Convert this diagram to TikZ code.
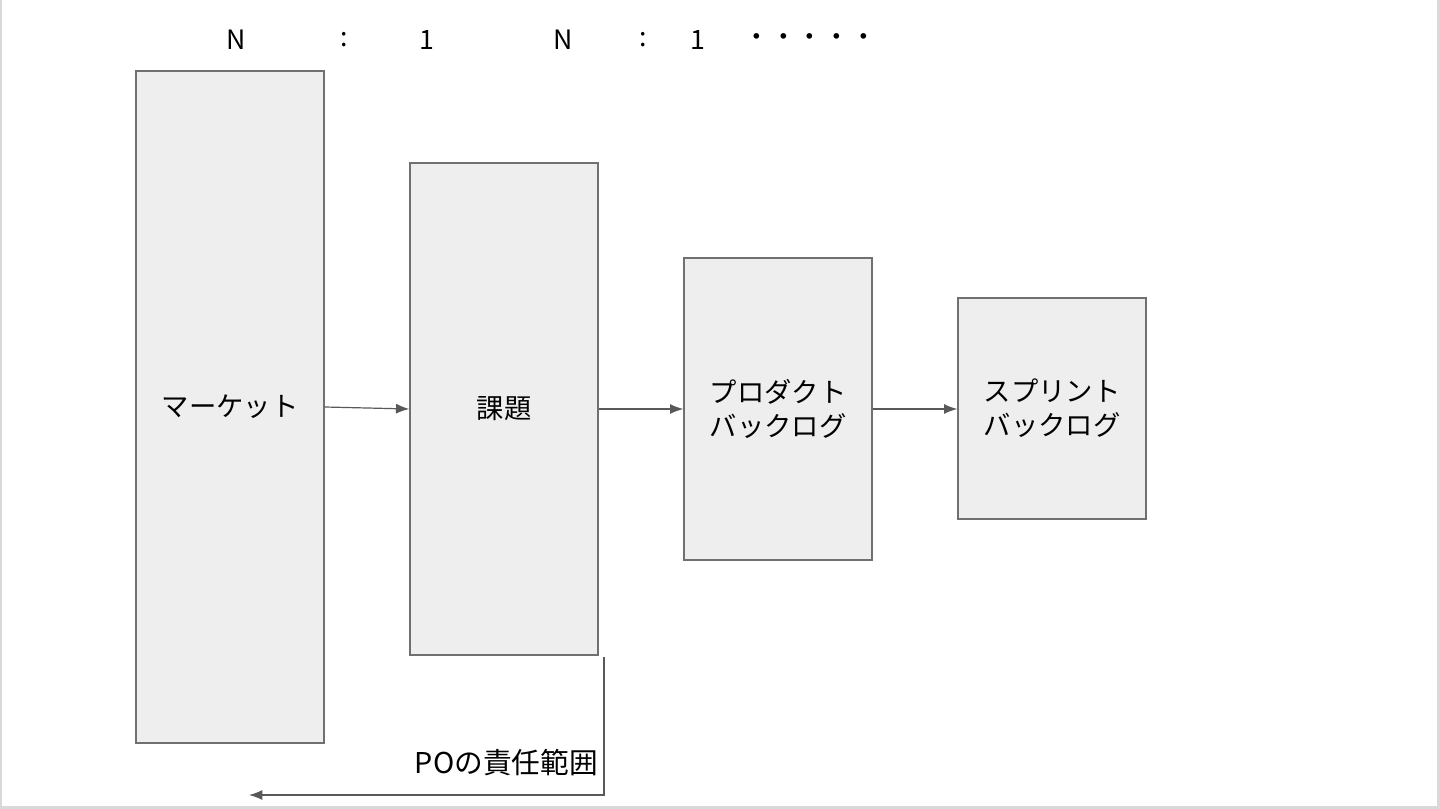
\documentclass[tikz,border=0pt]{standalone}
\usepackage{fontspec}
\setmainfont{Noto Sans CJK JP}
\usetikzlibrary{arrows.meta}
\definecolor{boxfill}{HTML}{EEEEEE}
\definecolor{boxline}{HTML}{707070}
\definecolor{flowline}{HTML}{595959}
\definecolor{pageedge}{HTML}{D9D9D9}
\begin{document}
\begin{tikzpicture}[x=0.75pt, y=-0.75pt, >={Latex[length=10pt,width=7.5pt]}]
  % Define styles
  \tikzset{
    stage/.style={rectangle, draw=boxline, fill=boxfill, line width=1pt, minimum width=141pt, align=center, inner sep=0pt, font=\fontsize{20.5}{25.5}\selectfont},
    flow/.style={->, draw=flowline, line width=0.9pt},
    ratio/.style={font=\fontsize{20}{24}\selectfont, inner sep=0pt}
  }
  \useasboundingbox (0,0) rectangle (1440,809);
  \fill[pageedge] (0,0) rectangle (1440,809);
  \fill[white] (2,0) rectangle (1437,806);

  % Ratio labels
  \node[ratio] (ratioN1) at (236,40) {N};
  \node[ratio] (ratioC1) at (344,40) {:};
  \node[ratio] (ratioO1) at (427,40) {1};
  \node[ratio] (ratioN2) at (563,40) {N};
  \node[ratio] (ratioC2) at (643,40) {:};
  \node[ratio] (ratioO2) at (698,40) {1};
  \node[ratio] (ratioDots) at (810,40) {・・・・・};

  % Stages
  \node[stage, minimum height=504pt] (market) at (230,407) {マーケット};
  \node[stage, minimum height=369pt] (issue) at (504,409) {課題};
  \node[stage, minimum height=226.5pt] (product) at (778,409) {プロダクト\\バックログ};
  \node[stage, minimum height=165.75pt] (sprint) at (1052,408.5) {スプリント\\バックログ};

  % Flows
  \draw[flow] (market.east) -- (issue.west);
  \draw[flow] (issue.east) -- (product.west);
  \draw[flow] (product.east) -- (product.east -| sprint.west);

  % PO scope
  \coordinate (scopeTop) at (604,657);
  \coordinate (scopeCorner) at (604,795);
  \coordinate (scopeEnd) at (249,795);
  \draw[flow] (scopeTop) -- (scopeCorner) -- (scopeEnd);
  \node[anchor=east, font=\fontsize{21.5}{24}\selectfont, inner sep=0pt] (scopeLabel) at (598,763) {POの責任範囲};
\end{tikzpicture}
\end{document}
